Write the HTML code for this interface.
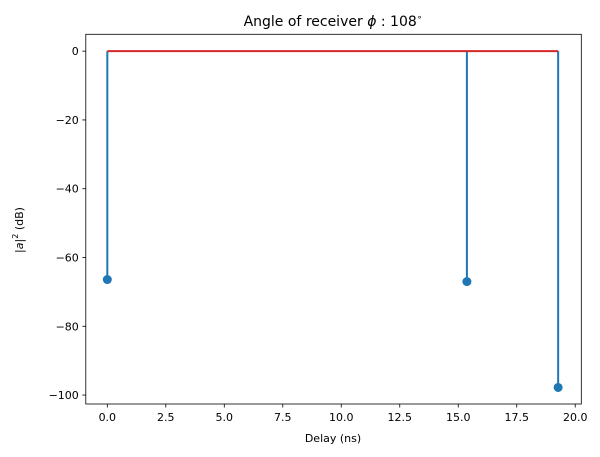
<!DOCTYPE html>
<html><head><meta charset="utf-8"><style>
html,body{margin:0;padding:0;background:#fff;}
svg{display:block;font-family:"DejaVu Sans","Liberation Sans",sans-serif;}
</style></head><body>
<svg id="chart" width="600" height="457" xmlns="http://www.w3.org/2000/svg">
<rect width="600" height="457" fill="#fff"/>
<text x="333" y="26" font-size="14" text-anchor="middle" fill="#000">Angle of receiver <tspan font-style="italic">ϕ</tspan> : 108<tspan font-size="9" dy="-6">∘</tspan></text>
<g id="plot"></g>
<text x="333" y="442" font-size="11" text-anchor="middle" fill="#000">Delay (ns)</text>
<text transform="translate(23,230) rotate(-90)" font-size="11" text-anchor="middle" fill="#000">|<tspan font-style="italic">a</tspan>|<tspan font-size="8" dy="-5">2</tspan><tspan dy="5"> (dB)</tspan></text>
</svg>
<script>
const delays = [0, 15.37, 19.27];
const powers = [-66.4, -67.0, -97.8];
const xTicks = [0, 2.5, 5, 7.5, 10, 12.5, 15, 17.5, 20];
const xTickLabels = ["0.0","2.5","5.0","7.5","10.0","12.5","15.0","17.5","20.0"];
const yTicks = [0, -20, -40, -60, -80, -100];
const yTickLabels = ["0","\u221220","\u221240","\u221260","\u221280","\u2212100"];

const L=85.8,R=581.3,T=34.3,B=404;
const xMin=-0.92,xMax=20.26,yMin=-102.6,yMax=4.9;
const sx=v=>L+(v-xMin)/(xMax-xMin)*(R-L);
const sy=v=>T+(yMax-v)/(yMax-yMin)*(B-T);
const NS="http://www.w3.org/2000/svg";
const g=document.getElementById('plot');
function mk(tag,attrs){const e=document.createElementNS(NS,tag);for(const k in attrs)e.setAttribute(k,attrs[k]);g.appendChild(e);return e;}

xTicks.forEach((t,i)=>{
  const x=sx(t);
  const l=mk('line',{x1:x,x2:x,y1:B,y2:B+3.5,stroke:'#000','stroke-width':0.8});
  
  
  const tx=mk('text',{x:x,y:B+17,'font-size':11,'text-anchor':'middle',fill:'#000'});
  tx.textContent=xTickLabels[i];
  
  
});
yTicks.forEach((t,i)=>{
  const y=sy(t);
  const l=mk('line',{x1:L-3.5,x2:L,y1:y,y2:y,stroke:'#000','stroke-width':0.8});
  
  
  const tx=mk('text',{x:L-7,y:y+4,'font-size':11,'text-anchor':'end',fill:'#000'});
  tx.textContent=yTickLabels[i];
  
  
});
delays.forEach((d,i)=>{
  const x=sx(d);
  const s=mk('line',{x1:x,x2:x,y1:sy(0),y2:sy(powers[i]),stroke:'#1f77b4','stroke-width':2});
  
  
});
const base=mk('line',{x1:sx(Math.min(...delays)),x2:sx(Math.max(...delays)),y1:sy(0),y2:sy(0),stroke:'#d62728','stroke-width':2});


delays.forEach((d,i)=>{
  const c=mk('circle',{cx:sx(d),cy:sy(powers[i]),r:4.5,fill:'#1f77b4'});
  
  
});
const f=mk('rect',{x:L,y:T,width:R-L,height:B-T,fill:'none',stroke:'#000','stroke-width':0.8});


</script>
</body></html>
